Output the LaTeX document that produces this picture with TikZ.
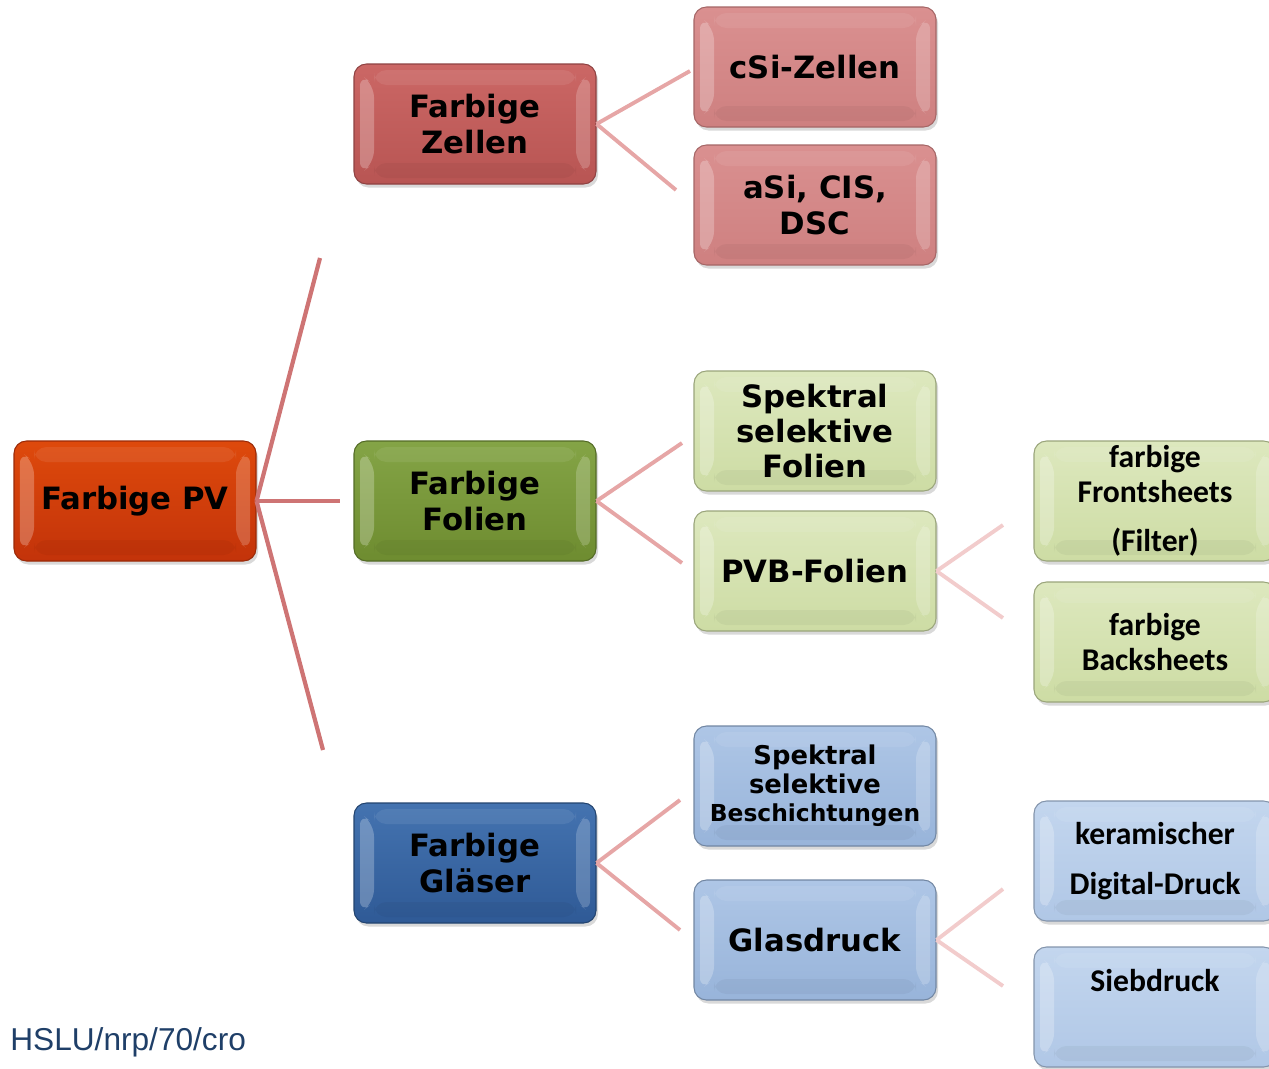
\documentclass[tikz,border=0pt]{standalone}
\usepackage{fontspec}
\setmainfont{DejaVu Sans}
\newfontfamily\calibri{Carlito}
\newfontfamily\arial{Liberation Sans}
\usetikzlibrary{shadows}

\definecolor{pvfill}{HTML}{D8400E}
\definecolor{pvdark}{HTML}{C3330A}
\definecolor{pvline}{HTML}{9A2A08}
\definecolor{zelfill}{HTML}{CB6765}
\definecolor{zeldark}{HTML}{B85553}
\definecolor{zelline}{HTML}{8E4242}
\definecolor{zelsub}{HTML}{DA9090}
\definecolor{zelsubdark}{HTML}{CE8080}
\definecolor{folfill}{HTML}{84A446}
\definecolor{foldark}{HTML}{6E8C30}
\definecolor{folline}{HTML}{536B26}
\definecolor{folsub}{HTML}{DDE8BE}
\definecolor{folsubdark}{HTML}{CDDCA4}
\definecolor{glafill}{HTML}{4473B0}
\definecolor{gladark}{HTML}{2F5A96}
\definecolor{glaline}{HTML}{23446F}
\definecolor{glasub}{HTML}{AEC6E6}
\definecolor{glasubdark}{HTML}{98B4DA}
\definecolor{glaleaf}{HTML}{C3D6EE}
\definecolor{glaleafdark}{HTML}{B0C7E6}
\definecolor{ast1}{HTML}{CE7474}
\definecolor{ast2}{HTML}{E6A6A6}
\definecolor{ast3}{HTML}{F2CCCC}
\definecolor{quelle}{HTML}{1F3F68}

\tikzstyle{bevel} = [path picture={
    \fill[white, opacity=0.25] ([xshift=0.12cm,yshift=-0.2cm]path picture bounding box.north west) -- ([xshift=0.4cm,yshift=-0.42cm]path picture bounding box.north west) -- ([xshift=0.4cm,yshift=0.42cm]path picture bounding box.south west) -- ([xshift=0.12cm,yshift=0.2cm]path picture bounding box.south west) -- cycle;
    \fill[white, opacity=0.2] ([xshift=-0.12cm,yshift=-0.2cm]path picture bounding box.north east) -- ([xshift=-0.4cm,yshift=-0.42cm]path picture bounding box.north east) -- ([xshift=-0.4cm,yshift=0.42cm]path picture bounding box.south east) -- ([xshift=-0.12cm,yshift=0.2cm]path picture bounding box.south east) -- cycle;
    \fill[white, opacity=0.08] ([xshift=0.4cm,yshift=-0.12cm]path picture bounding box.north west) -- ([xshift=-0.4cm,yshift=-0.12cm]path picture bounding box.north east) -- ([xshift=-0.4cm,yshift=-0.42cm]path picture bounding box.north east) -- ([xshift=0.4cm,yshift=-0.42cm]path picture bounding box.north west) -- cycle;
    \fill[black, opacity=0.04] ([xshift=0.4cm,yshift=0.12cm]path picture bounding box.south west) -- ([xshift=-0.4cm,yshift=0.12cm]path picture bounding box.south east) -- ([xshift=-0.4cm,yshift=0.42cm]path picture bounding box.south east) -- ([xshift=0.4cm,yshift=0.42cm]path picture bounding box.south west) -- cycle;
}]
\tikzstyle{box} = [rectangle, rounded corners=0.25cm, minimum width=4.84cm, minimum height=2.4cm, inner sep=2pt, text centered, align=center, line width=0.6pt, bevel, drop shadow={opacity=0.3, shadow xshift=0.04cm, shadow yshift=-0.07cm}, font=\bfseries\fontsize{17.5}{20}\selectfont]
\tikzstyle{root} = [box, draw=pvline, top color=pvfill!85!orange, bottom color=pvdark]
\tikzstyle{zellen} = [box, draw=zelline, top color=zelfill, bottom color=zeldark]
\tikzstyle{zellensub} = [box, draw=zelsubdark!80!black, top color=zelsub, bottom color=zelsubdark]
\tikzstyle{folien} = [box, draw=folline, top color=folfill, bottom color=foldark]
\tikzstyle{foliensub} = [box, draw=folsubdark!75!black, top color=folsub, bottom color=folsubdark]
\tikzstyle{folienleaf} = [foliensub, font=\calibri\bfseries\fontsize{18}{20}\selectfont]
\tikzstyle{glaeser} = [box, draw=glaline, top color=glafill, bottom color=gladark]
\tikzstyle{glaesersub} = [box, draw=glasubdark!75!black, top color=glasub, bottom color=glasubdark]
\tikzstyle{glaeserleaf} = [box, draw=glaleafdark!75!black, top color=glaleaf, bottom color=glaleafdark, font=\calibri\bfseries\fontsize{18}{20}\selectfont]
\tikzstyle{ast} = [line width=2.4pt, ast1]
\tikzstyle{zweig} = [line width=2.2pt, ast2]
\tikzstyle{blatt} = [line width=2.2pt, ast3]

\begin{document}
\begin{tikzpicture}[node distance=6.8cm]
    \useasboundingbox (0,0) rectangle (25.38,-21.36);

    \node (pv) [root] at (2.7,-10.02) {Farbige PV};
    \node (zellen) [zellen, right of=pv, yshift=7.54cm] {Farbige\\Zellen};
    \node (folien) [folien, right of=pv] {Farbige\\Folien};
    \node (glaeser) [glaeser, right of=pv, yshift=-7.24cm] {Farbige\\Gläser};

    \node (csi) [zellensub, right of=zellen, yshift=1.14cm] {cSi-Zellen};
    \node (asi) [zellensub, right of=zellen, yshift=-1.62cm] {aSi, CIS,\\DSC};

    \node (spektral) [foliensub, right of=folien, yshift=1.4cm] {Spektral\\selektive\\Folien};
    \node (pvb) [foliensub, right of=folien, yshift=-1.4cm] {PVB-Folien};
    \node (front) [folienleaf, right of=pvb, yshift=1.4cm] {farbige\\Frontsheets\\[0.28cm](Filter)};
    \node (back) [folienleaf, right of=pvb, yshift=-1.42cm] {farbige\\Backsheets};

    \node (beschicht) [glaesersub, right of=glaeser, yshift=1.54cm, font=\bfseries\fontsize{14.7}{16.2}\selectfont]
    {Spektral\\selektive\\\fontsize{13.3}{16.2}\selectfont Beschichtungen};
    \node (glasdruck) [glaesersub, right of=glaeser, yshift=-1.54cm] {Glasdruck};
    \node (keram) [glaeserleaf, right of=glasdruck, yshift=1.58cm] {keramischer\\[0.28cm]Digital-Druck};
    \node (sieb) [glaeserleaf, right of=glasdruck, yshift=-1.34cm, text depth=1.05cm] {Siebdruck};

    \coordinate (pvoben) at (6.40,-5.16);
    \coordinate (pvmitte) at (6.80,-10.02);
    \coordinate (pvunten) at (6.46,-15.0);
    \coordinate (zelloben) at (13.8,-1.42);
    \coordinate (zellunten) at (13.52,-3.8);
    \coordinate (foloben) at (13.64,-8.86);
    \coordinate (folunten) at (13.64,-11.26);
    \coordinate (pvboben) at (20.06,-10.5);
    \coordinate (pvbunten) at (20.06,-12.36);
    \coordinate (glaoben) at (13.6,-16.0);
    \coordinate (glaunten) at (13.6,-18.6);
    \coordinate (drucoben) at (20.06,-17.78);
    \coordinate (drucunten) at (20.06,-19.72);

    \draw [ast] (pv.east) -- (pvoben);
    \draw [ast] (pv.east) -- (pvmitte);
    \draw [ast] (pv.east) -- (pvunten);
    \draw [zweig] (zellen.east) -- (zelloben);
    \draw [zweig] (zellen.east) -- (zellunten);
    \draw [zweig] (folien.east) -- (foloben);
    \draw [zweig] (folien.east) -- (folunten);
    \draw [zweig] (glaeser.east) -- (glaoben);
    \draw [zweig] (glaeser.east) -- (glaunten);
    \draw [blatt] (pvb.east) -- (pvboben);
    \draw [blatt] (pvb.east) -- (pvbunten);
    \draw [blatt] (glasdruck.east) -- (drucoben);
    \draw [blatt] (glasdruck.east) -- (drucunten);

    \node (quelle) [anchor=base west, inner sep=0pt, text=quelle, font=\arial\fontsize{18}{20}\selectfont] at (0.2,-21.0) {HSLU/nrp/70/cro};
\end{tikzpicture}
\end{document}
